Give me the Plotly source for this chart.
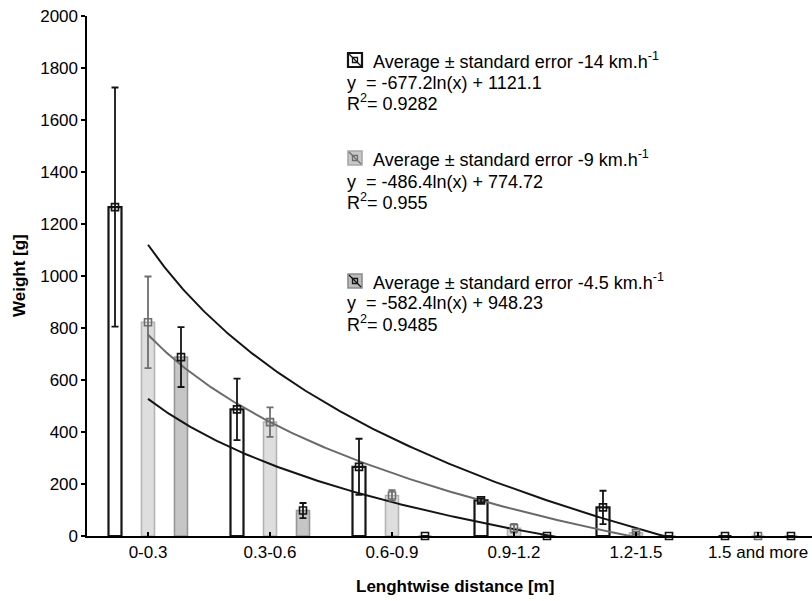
import numpy as np
import plotly.graph_objects as go

# ---------------- data ----------------
categories = ["0-0.3", "0.3-0.6", "0.6-0.9", "0.9-1.2", "1.2-1.5", "1.5 and more"]

mean_14 = [1265, 487, 266, 137, 110, 0]
err_14 = [460, 118, 108, 8, 64, 0]

mean_9 = [822, 438, 156, 30, 12, 0]
err_9 = [176, 57, 20, 17, 5, 0]

mean_45 = [688, 98, 0, 0, 0, 0]
err_45 = [115, 29, 0, 0, 0, 0]

legend_titles = ["Average ± standard error -14 km.h<sup>-1</sup>",
                 "Average ± standard error -9 km.h<sup>-1</sup>",
                 "Average ± standard error -4.5 km.h<sup>-1</sup>"]
legend_equations = ["y  = -677.2ln(x) + 1121.1",
                    "y  = -486.4ln(x) + 774.72",
                    "y  = -582.4ln(x) + 948.23"]
legend_r2 = ["R<sup>2</sup>= 0.9282", "R<sup>2</sup>= 0.955", "R<sup>2</sup>= 0.9485"]

y_ticks = list(range(0, 2001, 200))

# ---------------- layout constants ----------------
W, H = 812, 601
L, R, T, B = 87, 0, 16, 65
PW, PH = W - L - R, H - T - B
CAT_PX = 122.0
FONT = "Liberation Sans, Arial, sans-serif"
FS = 17
LFS = 18

def px(x):
    return (x - L) / PW

def py(y):
    return (H - B - y) / PH

idx = np.arange(len(categories))
group_off = 33 / CAT_PX
bar_w = 13 / CAT_PX

series = [
    dict(mean=mean_14, err=err_14, off=-group_off, fill="white", line="#141414", lw=2.2,
         mcol="#141414", ecol="#141414", tcol="#141414"),
    dict(mean=mean_9, err=err_9, off=0.0, fill="#dedede", line="#b4b4b4", lw=1.6,
         mcol="#6e6e6e", ecol="#6e6e6e", tcol="#6a6a6a"),
    dict(mean=mean_45, err=err_45, off=group_off, fill="#c6c6c6", line="#969696", lw=1.6,
         mcol="#141414", ecol="#141414", tcol="#141414"),
]

fig = go.Figure()

# bars
for s in series:
    fig.add_trace(go.Bar(
        x=idx + s["off"], y=s["mean"], width=bar_w,
        marker=dict(color=s["fill"], line=dict(color=s["line"], width=s["lw"])),
        showlegend=False, hoverinfo="skip"))

# logarithmic trendlines, fitted to each series (x = 1..6)
xs = np.linspace(1, len(categories), 300)
for s in series:
    a, b = np.polyfit(np.log(idx + 1), np.array(s["mean"], dtype=float), 1)
    fig.add_trace(go.Scatter(
        x=xs - 1, y=a * np.log(xs) + b, mode="lines",
        line=dict(color=s["tcol"], width=2), showlegend=False, hoverinfo="skip"))

# markers + error bars
for s in series:
    fig.add_trace(go.Scatter(
        x=idx + s["off"], y=s["mean"], mode="markers",
        marker=dict(symbol="square-open", size=7, color=s["mcol"], line=dict(width=1.6, color=s["mcol"])),
        error_y=dict(type="data", array=s["err"], visible=True, color=s["ecol"], thickness=1.8, width=3.5),
        cliponaxis=False, showlegend=False, hoverinfo="skip"))

# ---------------- legend blocks (icons + text) ----------------
shapes = []
annotations = []
blocks = [
    dict(ty=60, ey=83, ry=103, fill="white", border="#141414", bw=2.2, inner="#141414"),
    dict(ty=158, ey=182, ry=202, fill="#c8c8c8", border="#a8a8a8", bw=1.6, inner="#6e6e6e"),
    dict(ty=281, ey=303, ry=323, fill="#bdbdbd", border="#8c8c8c", bw=1.6, inner="#141414"),
]
for i, bl in enumerate(blocks):
    x0, x1 = 348, 362
    y0, y1 = bl["ty"] - 7, bl["ty"] + 7
    shapes.append(dict(type="rect", xref="paper", yref="paper", x0=px(x0), x1=px(x1),
                       y0=py(y1), y1=py(y0), fillcolor=bl["fill"],
                       line=dict(color=bl["border"], width=bl["bw"]), layer="above"))
    shapes.append(dict(type="rect", xref="paper", yref="paper", x0=px(352.5), x1=px(357.5),
                       y0=py(bl["ty"] + 2.5), y1=py(bl["ty"] - 2.5), fillcolor="rgba(0,0,0,0)",
                       line=dict(color=bl["inner"], width=1.3), layer="above"))
    shapes.append(dict(type="line", xref="paper", yref="paper", x0=px(x0 + 1), x1=px(x1 - 1),
                       y0=py(y0 + 1), y1=py(y1 - 1),
                       line=dict(color=bl["inner"], width=1.3), layer="above"))
    annotations.append(dict(xref="paper", yref="paper", x=px(371), y=py(bl["ty"]),
                            text=legend_titles[i], showarrow=False, xanchor="left", yanchor="middle",
                            font=dict(family=FONT, size=LFS, color="black")))
    annotations.append(dict(xref="paper", yref="paper", x=px(345), y=py(bl["ey"]),
                            text=legend_equations[i], showarrow=False, xanchor="left", yanchor="middle",
                            font=dict(family=FONT, size=LFS, color="black")))
    annotations.append(dict(xref="paper", yref="paper", x=px(345), y=py(bl["ry"]),
                            text=legend_r2[i], showarrow=False, xanchor="left", yanchor="middle",
                            font=dict(family=FONT, size=LFS, color="black")))

# axis titles
annotations.append(dict(xref="paper", yref="paper", x=px(19), y=py(276), text="<b>Weight [g]</b>",
                        textangle=-90, showarrow=False, xanchor="center", yanchor="middle",
                        font=dict(family=FONT, size=FS, color="black")))
annotations.append(dict(xref="paper", yref="paper", x=px(455), y=py(586),
                        text="<b>Lenghtwise distance [m]</b>", showarrow=False,
                        xanchor="center", yanchor="middle",
                        font=dict(family=FONT, size=FS, color="black")))

fig.update_layout(
    width=W, height=H,
    margin=dict(l=L, r=R, t=T, b=B, autoexpand=False),
    paper_bgcolor="white", plot_bgcolor="white",
    barmode="overlay",
    shapes=shapes, annotations=annotations,
    font=dict(family=FONT, size=FS, color="black"),
    xaxis=dict(range=[-0.5, -0.5 + PW / CAT_PX], tickmode="array", tickvals=list(idx),
               ticktext=categories, showgrid=False, zeroline=False, automargin=False,
               showline=True, linecolor="black", linewidth=1.6,
               ticks="inside", ticklen=4, tickwidth=1.3, tickcolor="black",
               tickfont=dict(family=FONT, size=FS, color="black")),
    yaxis=dict(range=[0, 2000], tickmode="array", tickvals=y_ticks,
               showgrid=False, zeroline=False, automargin=False,
               showline=True, linecolor="black", linewidth=1.6,
               ticks="outside", ticklen=4, tickwidth=1.3, tickcolor="black",
               tickfont=dict(family=FONT, size=FS, color="black")),
)

fig.write_html("out.html", config={"displayModeBar": False, "staticPlot": True},
               post_script="document.body.style.margin='0px';")
